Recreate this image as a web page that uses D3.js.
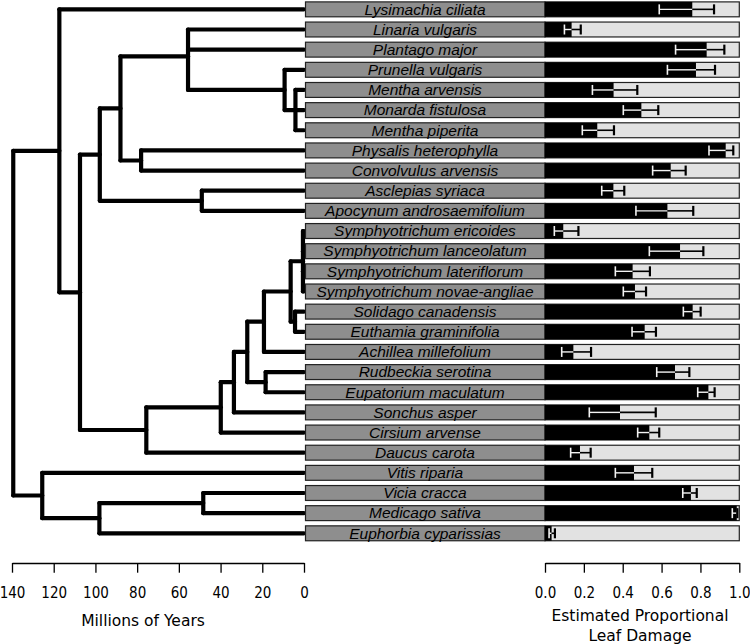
<!DOCTYPE html>
<html><head><meta charset="utf-8">
<script src="https://cdn.jsdelivr.net/npm/d3@7"></script>
<style>body{margin:0;background:#fff} svg{display:block}</style>
</head><body><svg id="c" width="750" height="644"></svg>
<script>
const species = ["Lysimachia ciliata","Linaria vulgaris","Plantago major","Prunella vulgaris","Mentha arvensis","Monarda fistulosa","Mentha piperita","Physalis heterophylla","Convolvulus arvensis","Asclepias syriaca","Apocynum androsaemifolium","Symphyotrichum ericoides","Symphyotrichum lanceolatum","Symphyotrichum lateriflorum","Symphyotrichum novae-angliae","Solidago canadensis","Euthamia graminifolia","Achillea millefolium","Rudbeckia serotina","Eupatorium maculatum","Sonchus asper","Cirsium arvense","Daucus carota","Vitis riparia","Vicia cracca","Medicago sativa","Euphorbia cyparissias"];
const damageMean  = [0.758,0.137,0.832,0.777,0.353,0.496,0.269,0.930,0.647,0.352,0.630,0.094,0.695,0.451,0.463,0.760,0.513,0.146,0.669,0.841,0.386,0.537,0.180,0.458,0.751,0.987,0.034];
const damageLower = [0.588,0.100,0.672,0.630,0.244,0.403,0.192,0.844,0.554,0.292,0.468,0.048,0.537,0.362,0.403,0.712,0.448,0.086,0.575,0.786,0.228,0.477,0.132,0.362,0.709,0.964,0.021];
const damageUpper = [0.870,0.184,0.923,0.875,0.475,0.583,0.355,0.969,0.724,0.408,0.763,0.172,0.815,0.540,0.520,0.801,0.571,0.237,0.743,0.873,0.570,0.588,0.235,0.552,0.781,0.990,0.051];
// tree: parent of each tip, and internal nodes with their parent and age (Mya)
const tipParents = ["A","H","H","J","K","K","K","I","I","G","G","Sym","Sym","Sym","Sym","U","U","O","P","P","M","L","E","R","T","T","S"];
const nodeNames   = ["root","A","C","D","F","H","J","K","I","G","E","L","M","N","O","Q","Sym","U","P","R","S","T"];
const nodeParents = [null,"root","A","C","D","F","H","J","F","D","C","E","L","M","N","O","Q","Q","N","root","R","S"];
const nodeAges    = [139.4,117.3,107.4,97.9,88.0,55.6,9.3,4.1,78.1,49.0,75.6,39.9,33.6,27.2,19.2,6.4,0.5,4.3,18.4,125.5,98.1,48.3];
const ageTicks = [140,120,100,80,60,40,20,0];
const damageTicks = [0,0.2,0.4,0.6,0.8,1.0];

const svg = d3.select("#c");
const xAge = d3.scaleLinear().domain([140,0]).range([12,304]);
const y = d3.scalePoint().domain(species).range([9.35,533.3]);
const xDmg = d3.scaleLinear().domain([0,1]).range([545,739.3]);
const bandH = y.step()*0.74;

// build tree
const nodes = {};
nodeNames.forEach((n,i)=>{ nodes[n] = {name:n, age:nodeAges[i], parent:nodeParents[i], children:[]}; });
const tips = species.map((s,i)=>({name:s, age:0, parent:tipParents[i], children:[], y:y(s)}));
tips.forEach(t=>nodes[t.parent].children.push(t));
nodeNames.forEach(n=>{ const p = nodes[n].parent; if(p) nodes[p].children.push(nodes[n]); });
function computeY(nd){
  if(!nd.children.length) return nd.y;
  const ys = nd.children.map(computeY);
  nd.y = d3.mean(ys); nd.minY = d3.min(ys); nd.maxY = d3.max(ys);
  return nd.y;
}
computeY(nodes.root);

const tree = svg.append("g").attr("fill","none").attr("stroke","#000").attr("stroke-width",4.2).attr("stroke-linecap","round");
const all = nodeNames.map(n=>nodes[n]).concat(tips);
all.forEach(nd=>{
  if(nd.parent){
    const p = nodes[nd.parent];
    tree.append("path").attr("d",`M${xAge(p.age)},${nd.y}H${xAge(nd.age)}`);
  }
  if(nd.children.length){
    tree.append("path").attr("d",`M${xAge(nd.age)},${nd.minY}V${nd.maxY}`);
  }
});

// label boxes and bars
const rows = svg.append("g");
species.forEach((s,i)=>{
  const cy = y(s);
  rows.append("rect").attr("x",305.5).attr("y",cy-bandH/2).attr("width",xDmg(0)-305.5).attr("height",bandH)
    .attr("fill","#8e8e8e").attr("stroke","#222").attr("stroke-width",1.2);
  rows.append("rect").attr("x",xDmg(0)).attr("y",cy-bandH/2).attr("width",xDmg(1)-xDmg(0)).attr("height",bandH)
    .attr("fill","#e2e2e2").attr("stroke","#222").attr("stroke-width",1.2);
  rows.append("rect").attr("x",xDmg(0)).attr("y",cy-bandH/2).attr("width",xDmg(damageMean[i])-xDmg(0)).attr("height",bandH)
    .attr("fill","#000");
  rows.append("text").attr("x",425).attr("y",cy+5.3).attr("text-anchor","middle")
    .attr("font-family","'Liberation Sans', Arial, sans-serif").attr("font-style","italic").attr("font-size",15.5)
    .attr("fill","#000").text(s);
  // error bars
  const xl = xDmg(damageLower[i]), xm = xDmg(damageMean[i]), xh = xDmg(damageUpper[i]);
  const ch = 5;
  rows.append("line").attr("x1",xl).attr("x2",xm).attr("y1",cy).attr("y2",cy).attr("stroke","#f2f2f2").attr("stroke-width",1.4);
  rows.append("line").attr("x1",xm).attr("x2",xh).attr("y1",cy).attr("y2",cy).attr("stroke","#000").attr("stroke-width",1.6);
  rows.append("line").attr("x1",xl).attr("x2",xl).attr("y1",cy-ch).attr("y2",cy+ch).attr("stroke","#f2f2f2").attr("stroke-width",1.6);
  rows.append("line").attr("x1",xh).attr("x2",xh).attr("y1",cy-ch).attr("y2",cy+ch)
    .attr("stroke", damageUpper[i] > damageMean[i] ? "#000" : "#f2f2f2").attr("stroke-width",2.2);
});

// axes
function styleAxis(g){
  g.select(".domain").attr("stroke","#000").attr("stroke-width",1.3);
  g.selectAll(".tick line").attr("stroke","#000").attr("stroke-width",1.3);
  g.selectAll(".tick text").attr("y",35).attr("dy",null).attr("fill","#000")
    .attr("font-family","'DejaVu Sans Condensed','DejaVu Sans',sans-serif").attr("font-stretch","condensed").attr("font-size",15);
}
const gA = svg.append("g").attr("transform","translate(0,563)")
  .call(d3.axisBottom(xAge).tickValues(ageTicks).tickSize(9.7).tickSizeOuter(0).tickFormat(d3.format("d")));
styleAxis(gA);
const gD = svg.append("g").attr("transform","translate(0,563)")
  .call(d3.axisBottom(xDmg).tickValues(damageTicks).tickSize(9.7).tickSizeOuter(0).tickFormat(d3.format(".1f")));
styleAxis(gD);

const tfont = "'DejaVu Sans',sans-serif";
svg.append("text").attr("x",143).attr("y",626).attr("text-anchor","middle").attr("font-family",tfont).attr("font-size",15.5).text("Millions of Years");
svg.append("text").attr("x",640).attr("y",621).attr("text-anchor","middle").attr("font-family",tfont).attr("font-size",15.5).text("Estimated Proportional");
svg.append("text").attr("x",640).attr("y",640.5).attr("text-anchor","middle").attr("font-family",tfont).attr("font-size",15.5).text("Leaf Damage");
</script></body></html>
